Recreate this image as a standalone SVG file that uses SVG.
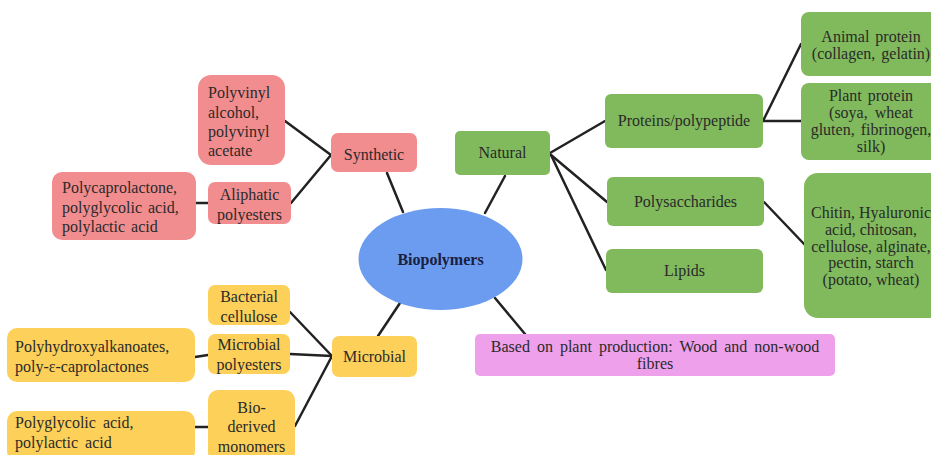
<svg xmlns="http://www.w3.org/2000/svg" width="931" height="455" viewBox="0 0 931 455">
  <style>
    text { font-family: "Liberation Serif", "Times New Roman", serif; font-size: 16px; fill: #2a2a2a; }
    .c { text-anchor: middle; }
    .syn { fill: #F28D8F; }
    .nat { fill: #80BA5C; }
    .mic { fill: #FDD059; }
    .pla { fill: #EFA0EB; }
    .hub { fill: #6C9CF0; }
    #connectors line { stroke: #222; stroke-width: 2.5; stroke-linecap: round; }
  </style>
  <rect width="931" height="455" fill="#ffffff"/>

  <!-- connectors -->
  <g id="connectors">
    <line x1="387" y1="173" x2="403" y2="212"/>
    <line x1="285" y1="121" x2="331" y2="155"/>
    <line x1="291" y1="203" x2="331" y2="155"/>
    <line x1="196" y1="203" x2="208" y2="203"/>
    <line x1="485" y1="213" x2="505" y2="176"/>
    <line x1="550" y1="153" x2="605" y2="121"/>
    <line x1="551" y1="155" x2="607" y2="202"/>
    <line x1="551" y1="155" x2="606" y2="270"/>
    <line x1="763" y1="121" x2="801" y2="44"/>
    <line x1="763" y1="121" x2="801" y2="121"/>
    <line x1="764" y1="202" x2="805" y2="245"/>
    <line x1="495" y1="298" x2="525" y2="334"/>
    <line x1="378" y1="336" x2="400" y2="303"/>
    <line x1="290" y1="312" x2="332" y2="356"/>
    <line x1="290" y1="354" x2="332" y2="356"/>
    <line x1="295" y1="426" x2="332" y2="356"/>
    <line x1="195" y1="357" x2="208" y2="355"/>
    <line x1="195" y1="427" x2="208" y2="427"/>
  </g>

  <!-- central hub -->
  <g id="biopolymers">
    <ellipse class="hub" cx="440.5" cy="259" rx="82" ry="51"/>
    <text class="c" x="440.5" y="265" font-weight="bold" font-size="18" style="fill:#1a2040">Biopolymers</text>
  </g>

  <!-- synthetic branch -->
  <g id="synthetic">
    <rect class="syn" x="331" y="133" width="86" height="39" rx="7"/>
    <text class="c" x="374" y="160">Synthetic</text>
  </g>
  <g id="polyvinyl">
    <rect class="syn" x="198" y="75" width="87" height="90" rx="13"/>
    <text x="208" y="98">Polyvinyl</text>
    <text x="208" y="118">alcohol,</text>
    <text x="208" y="137">polyvinyl</text>
    <text x="208" y="156">acetate</text>
  </g>
  <g id="aliphatic">
    <rect class="syn" x="208" y="182" width="83" height="42" rx="7"/>
    <text class="c" x="249.5" y="200">Aliphatic</text>
    <text class="c" x="249.5" y="220">polyesters</text>
  </g>
  <g id="polycaprolactone">
    <rect class="syn" x="52" y="172" width="144" height="68" rx="10"/>
    <text x="62" y="193">Polycaprolactone,</text>
    <text x="62" y="213" word-spacing="2">polyglycolic acid,</text>
    <text x="62" y="232" word-spacing="2">polylactic acid</text>
  </g>

  <!-- natural branch -->
  <g id="natural">
    <rect class="nat" x="455" y="131" width="95" height="44" rx="5"/>
    <text class="c" x="502.5" y="158">Natural</text>
  </g>
  <g id="proteins">
    <rect class="nat" x="605" y="94" width="158" height="54" rx="6"/>
    <text class="c" x="684" y="126">Proteins/polypeptide</text>
  </g>
  <g id="animal-protein">
    <rect class="nat" x="801" y="12" width="142" height="64" rx="8"/>
    <text class="c" x="871" y="42" word-spacing="2">Animal protein</text>
    <text class="c" x="871" y="59" word-spacing="2">(collagen, gelatin)</text>
  </g>
  <g id="plant-protein">
    <rect class="nat" x="801" y="83" width="142" height="77" rx="8"/>
    <text class="c" x="871" y="101" word-spacing="2">Plant protein</text>
    <text class="c" x="871" y="118" word-spacing="3">(soya, wheat</text>
    <text class="c" x="871" y="135" word-spacing="2">gluten, fibrinogen,</text>
    <text class="c" x="871" y="152">silk)</text>
  </g>
  <g id="polysaccharides">
    <rect class="nat" x="607" y="177" width="157" height="49" rx="6"/>
    <text class="c" x="685.5" y="207">Polysaccharides</text>
  </g>
  <g id="lipids">
    <rect class="nat" x="606" y="249" width="157" height="44" rx="6"/>
    <text class="c" x="684.5" y="276">Lipids</text>
  </g>
  <g id="polysaccharide-examples">
    <rect class="nat" x="804" y="173" width="140" height="145" rx="14"/>
    <text class="c" x="871" y="218">Chitin, Hyaluronic</text>
    <text class="c" x="871" y="235">acid, chitosan,</text>
    <text class="c" x="871" y="252">cellulose, alginate,</text>
    <text class="c" x="871" y="268">pectin, starch</text>
    <text class="c" x="871" y="285">(potato, wheat)</text>
  </g>

  <!-- plant production -->
  <g id="plant-production">
    <rect class="pla" x="475" y="334" width="360" height="42" rx="5"/>
    <text class="c" x="655" y="352" word-spacing="3">Based on plant production: Wood and non-wood</text>
    <text class="c" x="655" y="369">fibres</text>
  </g>

  <!-- microbial branch -->
  <g id="microbial">
    <rect class="mic" x="332" y="336" width="85" height="41" rx="7"/>
    <text class="c" x="374.5" y="362">Microbial</text>
  </g>
  <g id="bacterial-cellulose">
    <rect class="mic" x="208" y="285" width="82" height="40" rx="7"/>
    <text class="c" x="249" y="302">Bacterial</text>
    <text class="c" x="249" y="322">cellulose</text>
  </g>
  <g id="microbial-polyesters">
    <rect class="mic" x="208" y="334" width="82" height="40" rx="7"/>
    <text class="c" x="249" y="350">Microbial</text>
    <text class="c" x="249" y="370">polyesters</text>
  </g>
  <g id="bio-derived">
    <rect class="mic" x="208" y="390" width="87" height="72" rx="10"/>
    <text class="c" x="251.5" y="413">Bio-</text>
    <text class="c" x="251.5" y="432">derived</text>
    <text class="c" x="251.5" y="452">monomers</text>
  </g>
  <g id="polyhydroxyalkanoates">
    <rect class="mic" x="7" y="328" width="188" height="54" rx="10"/>
    <text x="15" y="352">Polyhydroxyalkanoates,</text>
    <text x="15" y="372">poly-ε-caprolactones</text>
  </g>
  <g id="polyglycolic">
    <rect class="mic" x="7" y="411" width="188" height="50" rx="10"/>
    <text x="15" y="428" word-spacing="3">Polyglycolic acid,</text>
    <text x="15" y="448" word-spacing="3">polylactic acid</text>
  </g>
</svg>
